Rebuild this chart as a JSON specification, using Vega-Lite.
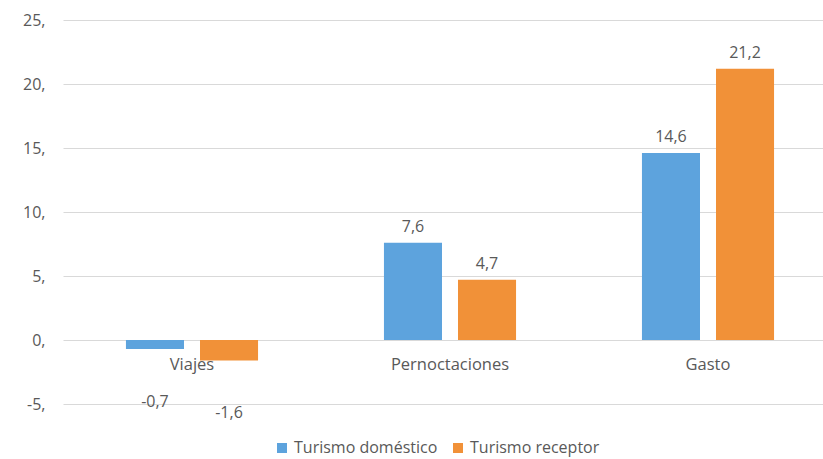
{
  "$schema": "https://vega.github.io/schema/vega-lite/v6.json",
  "autosize": {"type": "none"},
  "padding": {"left": 63, "top": 20, "right": 0, "bottom": 55},
  "width": 774,
  "height": 384,
  "background": "white",
  "config": {
    "locale": {"number": {"decimal": ",", "thousands": ".", "grouping": [3], "currency": ["", " €"], "minus": "-"}},
    "font": "Open Sans",
    "view": {"stroke": null}
  },
  "data": {"values": [
    {"categoria": "Viajes", "serie": "Turismo doméstico", "valor": -0.7},
    {"categoria": "Viajes", "serie": "Turismo receptor", "valor": -1.6},
    {"categoria": "Pernoctaciones", "serie": "Turismo doméstico", "valor": 7.6},
    {"categoria": "Pernoctaciones", "serie": "Turismo receptor", "valor": 4.7},
    {"categoria": "Gasto", "serie": "Turismo doméstico", "valor": 14.6},
    {"categoria": "Gasto", "serie": "Turismo receptor", "valor": 21.2}
  ]},
  "encoding": {
    "x": {"field": "categoria", "type": "nominal", "sort": ["Viajes", "Pernoctaciones", "Gasto"],
      "scale": {"paddingInner": 0.426, "paddingOuter": 0.213},
      "axis": {"title": null, "orient": "bottom", "offset": -64, "domain": false, "ticks": false, "labelAngle": 0, "labelFontSize": 16.5, "labelColor": "#595959", "labelPadding": 16, "grid": false}},
    "xOffset": {"field": "serie", "type": "nominal", "scale": {"paddingInner": 0.216, "paddingOuter": 0.108}},
    "y": {"field": "valor", "type": "quantitative", "scale": {"domain": [-5, 25], "nice": false},
      "axis": {"title": null, "values": [-5, 0, 5, 10, 15, 20, 25], "format": "d", "labelExpr": "datum.label + ','", "domain": false, "ticks": false, "labelPadding": 18, "labelFontSize": 16, "labelColor": "#595959", "gridColor": "#d9d9d9", "gridWidth": 1}}
  },
  "layer": [
    {"mark": {"type": "bar"},
     "encoding": {"color": {"field": "serie", "type": "nominal",
        "scale": {"domain": ["Turismo doméstico", "Turismo receptor"], "range": ["#5DA3DD", "#F19138"]},
        "legend": {"title": null, "orient": "none", "legendX": 211, "legendY": 420, "direction": "horizontal", "symbolType": "square", "symbolSize": 100, "symbolStrokeWidth": 0, "labelFontSize": 16, "labelColor": "#595959", "columnPadding": 12, "labelOffset": 4}}}},
    {"transform": [{"filter": "datum.valor >= 0"}],
     "mark": {"type": "text", "baseline": "bottom", "dy": -8, "fontSize": 16, "color": "#595959"},
     "encoding": {"text": {"field": "valor", "type": "quantitative", "format": ".1f"}}},
    {"transform": [{"filter": "datum.valor < 0"}],
     "mark": {"type": "text", "baseline": "top", "dy": 45, "fontSize": 16, "color": "#595959"},
     "encoding": {"text": {"field": "valor", "type": "quantitative", "format": ".1f"}}}
  ]
}
